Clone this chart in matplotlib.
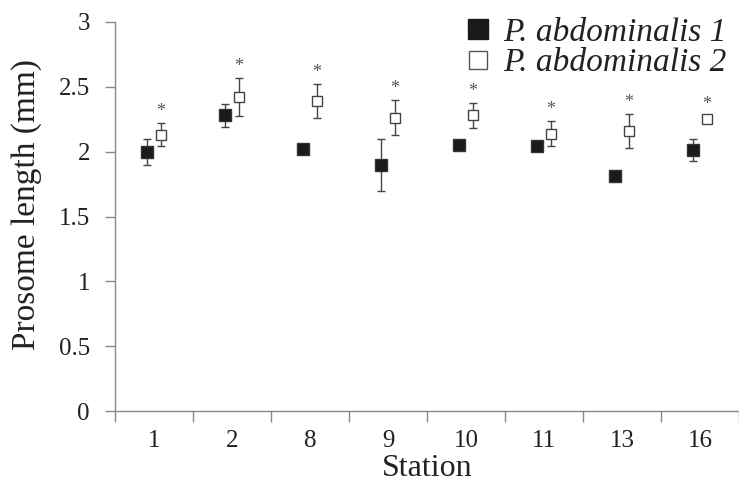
import numpy as np
import matplotlib.pyplot as plt
from matplotlib.lines import Line2D

# values
stations = ['1', '2', '8', '9', '10', '11', '13', '16']
p1_mean = [2.00, 2.28, 2.02, 1.90, 2.05, 2.04, 1.81, 2.01]
p1_err = [0.10, 0.09, 0.0, 0.20, 0.03, 0.02, 0.0, 0.085]
p2_mean = [2.13, 2.42, 2.39, 2.26, 2.28, 2.14, 2.16, 2.25]
p2_err = [0.09, 0.145, 0.13, 0.135, 0.095, 0.095, 0.13, 0.02]
signif = [True] * 8

plt.rcParams['font.family'] = ['Liberation Serif', 'DejaVu Serif']

fig = plt.figure(figsize=(7.39, 4.84), dpi=100)
ax = fig.add_axes([115 / 739, 73 / 484, 624 / 739, 389 / 484])

x = np.arange(len(stations))
off = 0.09

ax.errorbar(x - off, p1_mean, yerr=p1_err, fmt='s', color='#1a1a1a', ms=8.5,
            mfc='#1a1a1a', mec='#333333', ecolor='#444444', elinewidth=1.0,
            capsize=3, capthick=1.0, zorder=3)
ax.errorbar(x + off, p2_mean, yerr=p2_err, fmt='s', color='#444444', ms=7.5,
            mfc='white', mec='#444444', mew=1.0, ecolor='#444444', elinewidth=1.0,
            capsize=3, capthick=1.0, zorder=3)

# significance stars above the second group
for xi, m, e, s in zip(x, p2_mean, p2_err, signif):
    if s:
        ax.annotate('*', (xi + off, m + e), xytext=(0, 2.5), textcoords='offset points',
                    ha='center', va='bottom', fontsize=13, color='#555555')

ax.set_xlim(-0.5, 7.44)
ax.set_ylim(0, 3)
ax.set_yticks(np.arange(0, 3.01, 0.5))
ax.set_yticklabels(['0', '0.5', '1', '1.5', '2', '2.5', '3'])
ax.set_xticks(x)
ax.set_xticklabels(stations)
ax.set_xticks(np.arange(-0.5, 8, 1), minor=True)
ax.tick_params(axis='x', which='major', length=0, pad=14, labelsize=18, labelcolor='#222222')
ax.tick_params(axis='x', which='minor', length=8, width=1, color='#888888', direction='out')
ax.tick_params(axis='y', length=7, width=1, color='#888888', pad=11, labelsize=18,
               labelcolor='#222222')

for side in ['top', 'right']:
    ax.spines[side].set_visible(False)
for side in ['left', 'bottom']:
    ax.spines[side].set_color('#888888')
    ax.spines[side].set_linewidth(1.0)

ax.set_xlabel('Station', fontsize=23, color='#222222', labelpad=1)
ax.set_ylabel('Prosome length (mm)', fontsize=24, color='#222222')
ax.yaxis.set_label_coords(-0.117, 0.53)

handles = [
    Line2D([], [], ls='none', marker='s', ms=14, mfc='#1a1a1a', mec='#1a1a1a'),
    Line2D([], [], ls='none', marker='s', ms=12.5, mfc='white', mec='#555555', mew=1.0),
]
leg = fig.legend(handles, ['P. abdominalis 1', 'P. abdominalis 2'], loc='upper left',
                 bbox_to_anchor=(448 / 739, 0.992), frameon=False,
                 prop={'style': 'italic', 'size': 24}, handletextpad=0.26,
                 labelspacing=0.0, borderaxespad=0, handlelength=1.0)
for t in leg.get_texts():
    t.set_color('#222222')

plt.savefig('out.png', dpi=100)
